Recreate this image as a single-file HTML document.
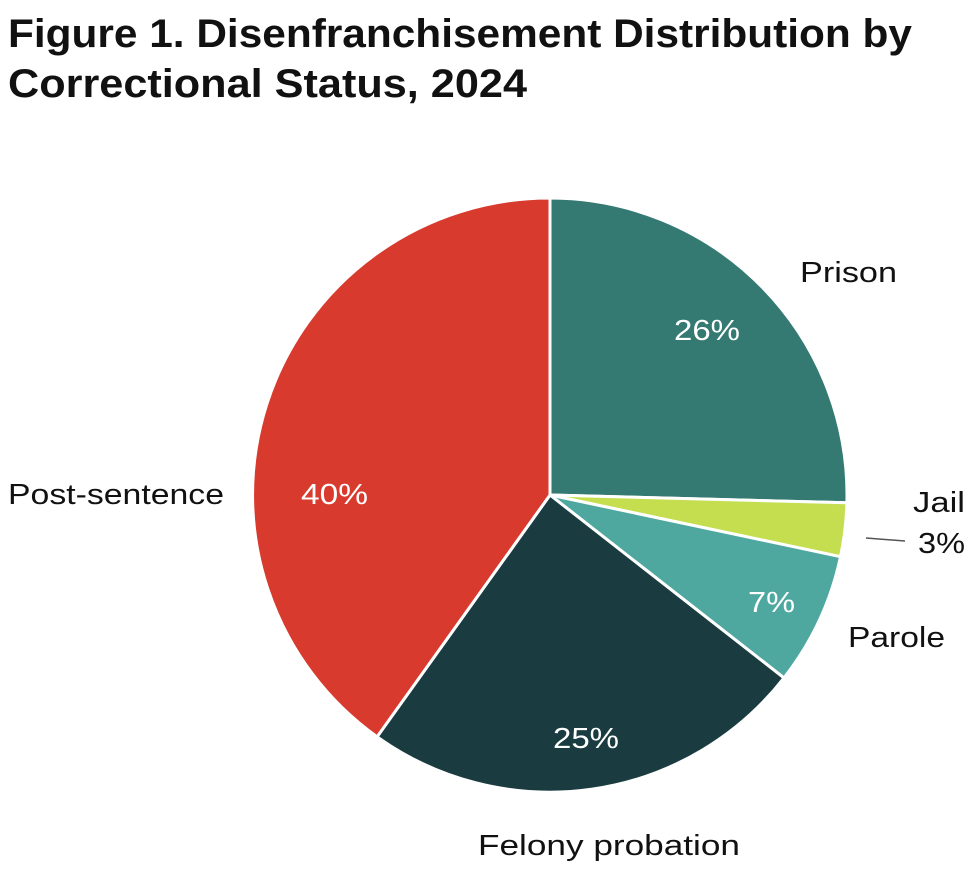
<!DOCTYPE html>
<html><head><meta charset="utf-8"><style>
body{margin:0;background:#fff;}
svg{display:block;font-family:"Liberation Sans",sans-serif;}
</style></head><body>
<svg width="980" height="875" viewBox="0 0 980 875">
<text x="8" y="47" font-size="40" font-weight="bold" fill="#111" textLength="904" lengthAdjust="spacingAndGlyphs">Figure 1. Disenfranchisement Distribution by</text>
<text x="8" y="97" font-size="40" font-weight="bold" fill="#111" textLength="519" lengthAdjust="spacingAndGlyphs">Correctional Status, 2024</text>
<g stroke="#fff" stroke-width="3" stroke-linejoin="round">
<path d="M550,495 L550,198 A297,297 0 0 1 846.9,502.8 Z" fill="#357a72"/>
<path d="M550,495 L846.9,502.8 A297,297 0 0 1 840.5,556.7 Z" fill="#c5de50"/>
<path d="M550,495 L840.5,556.7 A297,297 0 0 1 784,677.9 Z" fill="#4ea8a0"/>
<path d="M550,495 L784,677.9 A297,297 0 0 1 377.1,736.8 Z" fill="#1a3c40"/>
<path d="M550,495 L377.1,736.8 A297,297 0 0 1 550,198 Z" fill="#d93a2e"/>
</g>
<g font-size="29" fill="#fff">
<text x="674" y="340" textLength="66" lengthAdjust="spacingAndGlyphs">26%</text>
<text x="748" y="612" textLength="47" lengthAdjust="spacingAndGlyphs">7%</text>
<text x="553" y="748" textLength="66" lengthAdjust="spacingAndGlyphs">25%</text>
<text x="301" y="504" textLength="67" lengthAdjust="spacingAndGlyphs">40%</text>
</g>
<g font-size="29" fill="#111">
<text x="800" y="282" textLength="97" lengthAdjust="spacingAndGlyphs">Prison</text>
<text x="913" y="512" textLength="52" lengthAdjust="spacingAndGlyphs">Jail</text>
<text x="918" y="553" textLength="47" lengthAdjust="spacingAndGlyphs">3%</text>
<text x="848" y="647" textLength="97" lengthAdjust="spacingAndGlyphs">Parole</text>
<text x="478" y="855" textLength="262" lengthAdjust="spacingAndGlyphs">Felony probation</text>
<text x="8" y="504" textLength="216" lengthAdjust="spacingAndGlyphs">Post-sentence</text>
</g>
<line x1="866" y1="538" x2="905" y2="541" stroke="#555" stroke-width="1.5"/>
</svg>
</body></html>
